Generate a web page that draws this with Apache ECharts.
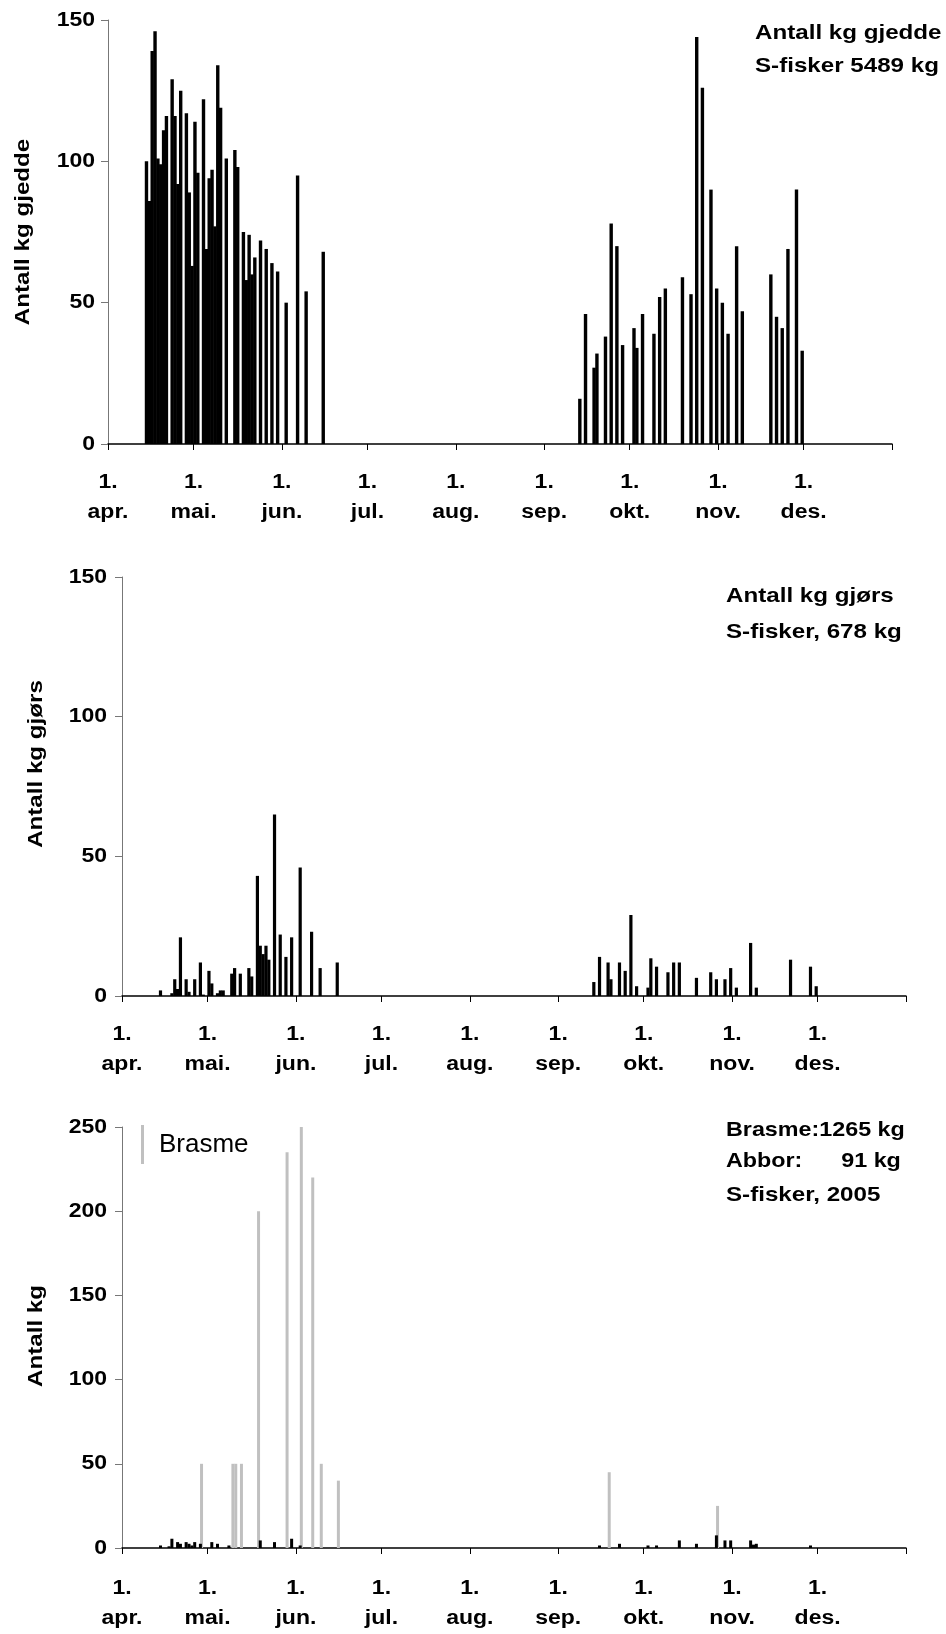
<!DOCTYPE html>
<html>
<head>
<meta charset="utf-8">
<script src="https://cdn.jsdelivr.net/npm/echarts@6/dist/echarts.min.js"></script>
<style>
  html, body { margin: 0; padding: 0; background: #fff; }
  #chart { width: 946px; height: 1634px; }
</style>
</head>
<body>
<div id="chart"></div>
<script>
// Day numbers count from 1 April (day 0); 275 is 1 January.
const monthStartDays = [0, 30, 61, 91, 122, 153, 183, 214, 244, 275];
const monthLabels = ['1.\napr.', '1.\nmai.', '1.\njun.', '1.\njul.', '1.\naug.', '1.\nsep.', '1.\nokt.', '1.\nnov.', '1.\ndes.'];
const kgTicks150 = [0, 50, 100, 150];
const kgTicks250 = [0, 50, 100, 150, 200, 250];

// Gjedde (pike), kg per fishing day
const gjeddeDays = [13, 14, 15, 16, 17, 18, 19, 20, 22, 23, 24, 25, 27, 28, 29, 30, 31, 33, 34, 35, 36, 37, 38, 39, 41, 44, 45, 47, 48, 49, 50, 51, 53, 55, 57, 59, 62, 66, 69, 75,
  165, 167, 170, 171, 174, 176, 178, 180, 184, 185, 187, 191, 193, 195, 201, 204, 206, 208, 211, 213, 215, 217, 220, 222, 232, 234, 236, 238, 241, 243];
const gjeddeKg = [100, 86, 139, 146, 101, 99, 111, 116, 129, 116, 92, 125, 117, 89, 63, 114, 96, 122, 69, 94, 97, 77, 134, 119, 101, 104, 98, 75, 58, 74, 60, 66, 72, 69, 64, 61, 50, 95, 54, 68,
  16, 46, 27, 32, 38, 78, 70, 35, 41, 34, 46, 39, 52, 55, 59, 53, 144, 126, 90, 55, 50, 39, 70, 47, 60, 45, 41, 69, 90, 33];

// Gjørs (zander), kg per fishing day
const gjorsDays = [13, 17, 18, 19, 20, 22, 23, 25, 27, 28, 30, 31, 33, 34, 35, 38, 39, 41, 44, 45, 47, 48, 49, 50, 51, 53, 55, 57, 59, 62, 66, 69, 75,
  165, 167, 170, 171, 174, 176, 178, 180, 184, 185, 187, 191, 193, 195, 201, 206, 208, 211, 213, 215, 220, 222, 234, 241, 243];
const gjorsKg = [2, 1, 6, 2.5, 21, 6, 1.5, 6, 12, 0.5, 9, 4.5, 1, 2, 2, 8, 10, 8, 10, 7, 43, 18, 15, 18, 13, 65, 22, 14, 21, 46, 23, 10, 12,
  5, 14, 12, 6, 12, 9, 29, 3.5, 3, 13.5, 10.5, 8.5, 12, 12, 6.5, 8.5, 6, 6, 10, 3, 19, 3, 13, 10.5, 3.5];

// Brasme (bream) and Abbor (perch), kg per fishing day
const brasmeDays = [27, 38, 39, 41, 47, 57, 62, 66, 69, 75, 170, 208];
const brasmeKg = [50, 50, 50, 50, 200, 235, 250, 220, 50, 40, 45, 25];
const abborDays = [13, 16, 17, 19, 20, 22, 23, 24, 25, 27, 31, 33, 37, 48, 53, 59, 62,
  167, 174, 184, 187, 195, 201, 208, 211, 213, 220, 221, 222, 241];
const abborKg = [1.5, 1, 5.5, 3.5, 2.5, 3.5, 2.5, 1.5, 3.5, 2.5, 3.5, 2.5, 1.5, 4.5, 3.5, 5.5, 1.5,
  1.5, 2.5, 1.5, 1.5, 4.5, 2.5, 7.5, 4.5, 4.5, 4.5, 2, 2.5, 1.5];

const FONT = '"Liberation Sans", Arial, Helvetica, sans-serif';
const GREY = '#c0c0c0';
// the lettering of these charts runs a little wider than plain Arial
const WIDE = 1.15;

// each column sits in the middle of its day slot; the second series of a cluster sits right of it
function points(days, kg, shift) {
  return days.map((d, i) => [d + shift, kg[i]]);
}

function xAxisFor(gridIndex) {
  return {
    type: 'value', gridIndex, min: 0, max: 275,
    axisLine: { show: true, onZero: false, lineStyle: { color: '#000', width: 1.5 } },
    axisTick: { show: true, customValues: monthStartDays, length: 6, lineStyle: { color: '#000', width: 1 } },
    axisLabel: { show: false },
    splitLine: { show: false }
  };
}

function yAxisFor(gridIndex, max) {
  return {
    type: 'value', gridIndex, min: 0, max, interval: 50,
    axisLine: { show: true, lineStyle: { color: '#777', width: 1 } },
    axisTick: { show: true, length: 7, lineStyle: { color: '#777', width: 1 } },
    axisLabel: { show: false },
    splitLine: { show: false }
  };
}

// columns of a fixed pixel width, standing on the zero line of their grid
function columnSeries(name, gi, data, color, width, z) {
  return {
    name, type: 'custom', xAxisIndex: gi, yAxisIndex: gi, data, z,
    encode: { x: 0, y: 1 }, itemStyle: { color }, silent: true, animation: false,
    renderItem(params, api) {
      const top = api.coord([api.value(0), api.value(1)]);
      const base = api.coord([api.value(0), 0]);
      return {
        type: 'rect',
        shape: { x: top[0] - width / 2, y: top[1], width, height: base[1] - top[1] },
        style: { fill: color }
      };
    }
  };
}

function text(x, y, str, opts) {
  const o = Object.assign({ size: 21, weight: 'bold', align: 'left', vAlign: 'middle', scale: WIDE, rotation: 0, lineHeight: null }, opts || {});
  const style = {
    text: str, fill: '#000', font: o.weight + ' ' + o.size + 'px ' + FONT,
    align: o.align, verticalAlign: o.vAlign
  };
  if (o.lineHeight) style.lineHeight = o.lineHeight;
  return { type: 'text', x, y, rotation: o.rotation, scaleX: o.scale, silent: true, style };
}

const chart = echarts.init(document.getElementById('chart'), null, { renderer: 'canvas' });
chart.setOption({
  backgroundColor: '#fff',
  animation: false,
  grid: [
    { left: 108, top: 20, width: 784, height: 424 },
    { left: 122, top: 577, width: 784, height: 419 },
    { left: 122, top: 1127, width: 784, height: 421 }
  ],
  xAxis: [xAxisFor(0), xAxisFor(1), xAxisFor(2)],
  yAxis: [yAxisFor(0, 150), yAxisFor(1, 150), yAxisFor(2, 250)],
  legend: {
    data: ['Brasme'], left: 136, top: 1120, icon: 'rect', itemWidth: 3, itemHeight: 39, itemGap: 10,
    itemStyle: { color: GREY },
    textStyle: { fontFamily: FONT, fontSize: 26, color: '#000', padding: [0, 0, 0, 10] }, selectedMode: false
  },
  series: [
    columnSeries('Gjedde', 0, points(gjeddeDays, gjeddeKg, 0.5), '#000', 3.4, 2),
    columnSeries('Gjørs', 1, points(gjorsDays, gjorsKg, 0.5), '#000', 3.2, 2),
    columnSeries('Brasme', 2, points(brasmeDays, brasmeKg, 0.9), GREY, 3.0, 2),
    columnSeries('Abbor', 2, points(abborDays, abborKg, 0.5), '#000', 3.0, 3)
  ]
});

// Tick labels, axis titles and notes are placed against the axes' own scales.
const tickSets = [kgTicks150, kgTicks150, kgTicks250];
const labelGap = [13, 15, 15];
const monthLabelDrop = [23, 23, 25];
const graphics = [];
for (let gi = 0; gi < 3; gi++) {
  const axisX = chart.convertToPixel({ xAxisIndex: gi }, 0);
  const axisY = chart.convertToPixel({ yAxisIndex: gi }, 0);
  monthLabels.forEach((lab, k) => {
    const px = chart.convertToPixel({ xAxisIndex: gi }, monthStartDays[k]);
    graphics.push(text(px, axisY + monthLabelDrop[gi], lab, { size: 20, align: 'center', vAlign: 'top', lineHeight: 30 }));
  });
  tickSets[gi].forEach(v => {
    const py = chart.convertToPixel({ yAxisIndex: gi }, v);
    graphics.push(text(axisX - labelGap[gi], py, String(v), { size: 20, align: 'right' }));
  });
}
graphics.push(
  text(23, 232, 'Antall kg gjedde', { align: 'center', rotation: Math.PI / 2 }),
  text(36, 764, 'Antall kg gjørs', { align: 'center', rotation: Math.PI / 2 }),
  text(36, 1336, 'Antall kg', { align: 'center', rotation: Math.PI / 2 }),
  text(755, 33, 'Antall kg gjedde'),
  text(755, 66, 'S-fisker 5489 kg'),
  text(726, 596, 'Antall kg gjørs'),
  text(726, 632, 'S-fisker, 678 kg'),
  text(726, 1130, 'Brasme:1265 kg', { scale: 1.11 }),
  text(726, 1161, 'Abbor:      91 kg', { scale: 1.11 }),
  text(726, 1195, 'S-fisker, 2005')
);
chart.setOption({ graphic: graphics });
</script>
</body>
</html>
